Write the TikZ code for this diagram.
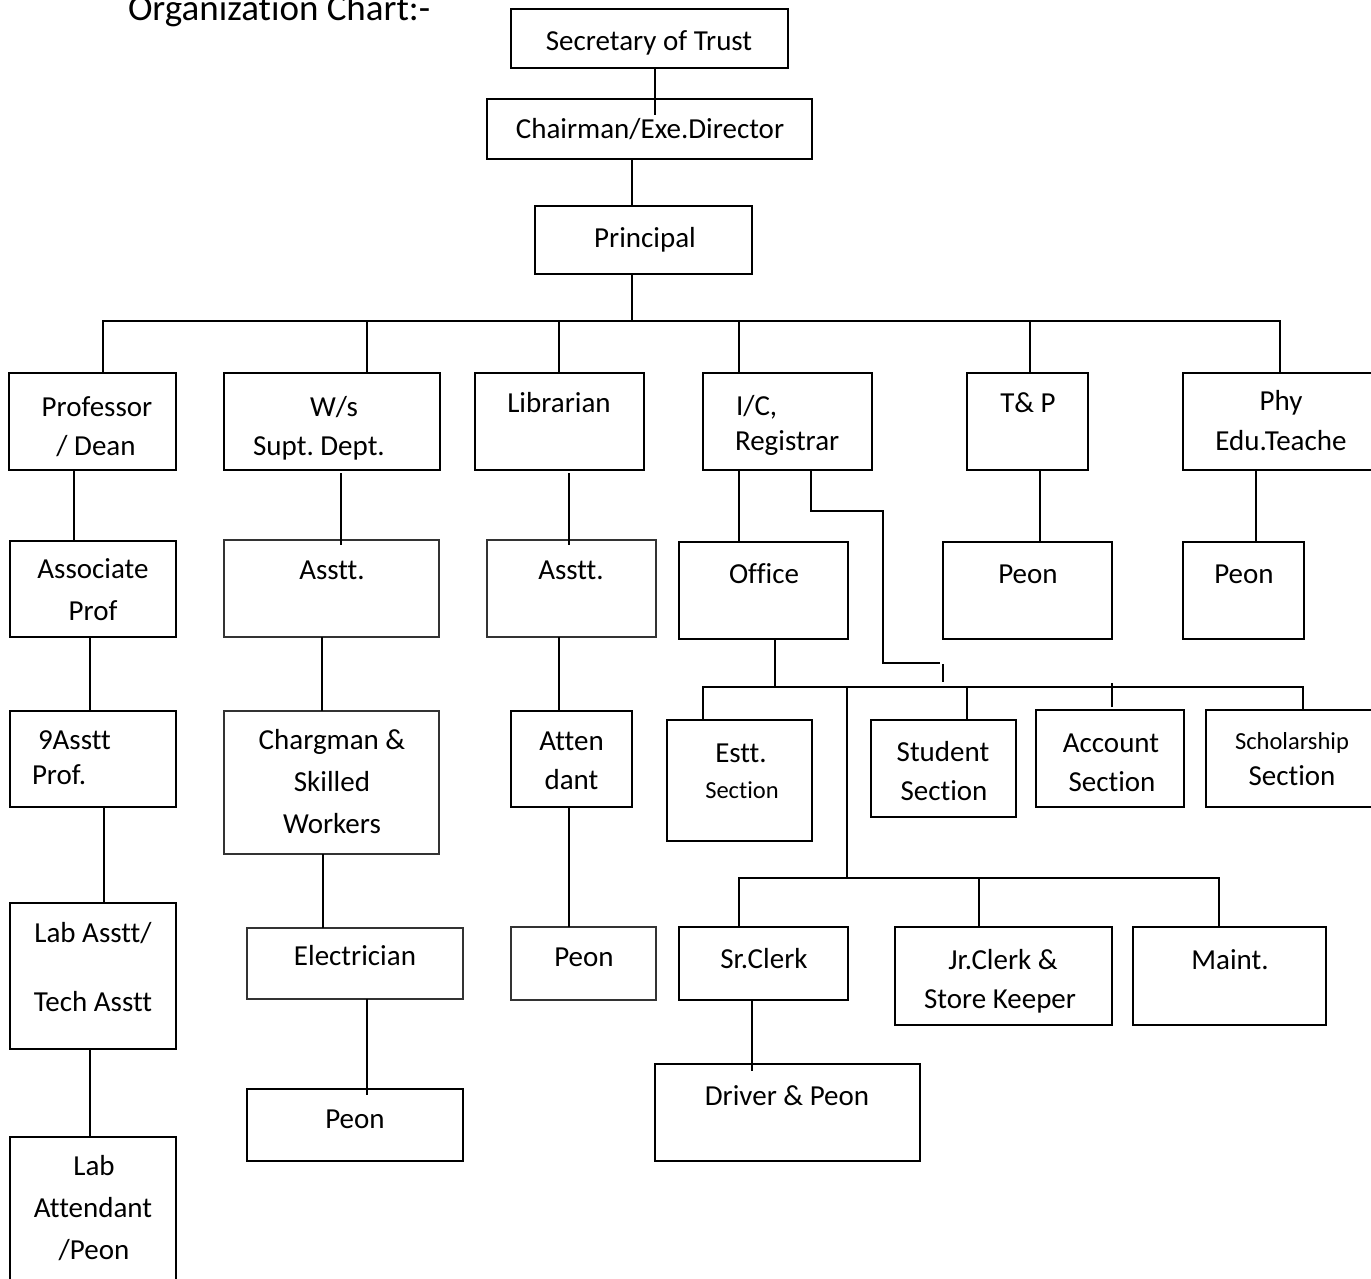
\documentclass[tikz,border=0pt]{standalone}
\usepackage{fontspec}
\setmainfont{Carlito}[Ligatures=NoCommon]
\frenchspacing
\usetikzlibrary{fit}
\newcommand\mainfs{\fontsize{29}{40}\selectfont}
\newcommand\smallfs{\fontsize{24.5}{30}\selectfont}
\newcommand\titlefs{\fontsize{37}{44}\selectfont}
\newcommand\orgbox[6][]{\node[box,#1,fit={(#3,#4) (#5,#6)}] (#2) {};}
\newcommand\lbl[4]{\node[txt,anchor=base] (#1) at (#2,#3) {#4};}
\newcommand\lblw[4]{\node[txt,anchor=base west] (#1) at (#2,#3) {#4};}
\newcommand\lbls[4]{\node[txt,font=\smallfs,anchor=base] (#1) at (#2,#3) {#4};}
\tikzset{
  box/.style={draw=black, line width=2pt, inner sep=0pt, outer sep=0pt},
  thinbox/.style={draw=black!80, line width=1.5pt},
  thickbox/.style={line width=2.8pt},
  txt/.style={inner sep=0pt, outer sep=0pt, font=\mainfs, text=black},
  conn/.style={draw=black, line width=1.6pt},
}
\begin{document}
\begin{tikzpicture}[x=1pt,y=-1pt]
\fill[white] (0,0) rectangle (1371,1279);
\useasboundingbox (0,0) rectangle (1371,1279);

% title
\node[txt,font=\titlefs,anchor=base west] (title) at (128,20.5) {Organization Chart:-};

% boxes
\orgbox{sec}{511}{9}{788}{68}
\orgbox[thickbox]{chair}{487}{99}{812}{159}
\orgbox{prin}{535}{206}{752}{274}
\orgbox{prof}{9}{373}{176}{470}
\orgbox{ws}{224}{373}{440}{470}
\orgbox{lib}{475}{373}{644}{470}
\orgbox{ic}{703}{373}{872}{470}
\orgbox{tp}{967}{373}{1088}{470}
\orgbox{phy}{1183}{373}{1385}{470}
\orgbox{assoc}{10}{541}{176}{637}
\orgbox[thinbox]{wsa}{224}{540}{439}{637}
\orgbox[thinbox]{liba}{487}{540}{656}{637}
\orgbox{office}{679}{542}{848}{639}
\orgbox{tpp}{943}{542}{1112}{639}
\orgbox{phyp}{1183}{542}{1304}{639}
\orgbox{asst9}{10}{711}{176}{807}
\orgbox[thinbox]{charg}{224}{711}{439}{854}
\orgbox{atten}{511}{711}{632}{807}
\orgbox{estt}{667}{720}{812}{841}
\orgbox{stud}{871}{720}{1016}{817}
\orgbox{acct}{1036}{710}{1184}{807}
\orgbox{schol}{1206}{710}{1385}{807}
\orgbox{lab}{10}{903}{176}{1049}
\orgbox[thinbox]{elec}{247}{928}{463}{999}
\orgbox[thinbox]{libp}{511}{927}{656}{1000}
\orgbox{sr}{679}{927}{848}{1000}
\orgbox{jr}{895}{927}{1112}{1025}
\orgbox{maint}{1133}{927}{1326}{1025}
\orgbox{labatt}{10}{1137}{176}{1300}
\orgbox{wsp}{247}{1089}{463}{1161}
\orgbox{driver}{655}{1064}{920}{1161}

% labels
\lbl{t-sec}{649}{51}{Secretary of Trust}
\lbl{t-chair}{650}{139}{Chairman/Exe.Director}
\lbl{t-prin}{645}{247}{Principal}
\lbl{t-prof1}{97}{416}{Professor}
\lbl{t-prof2}{96}{455}{/ Dean}
\lbl{t-ws1}{334}{416}{W/s}
\lbl{t-ws2}{319}{455}{Supt. Dept.}
\lbl{t-lib}{559}{412}{Librarian}
\lblw{t-ic1}{736}{415}{I/C,}
\lblw{t-ic2}{735}{450}{Registrar}
\lbl{t-tp}{1028}{412}{T\& P}
\lbl{t-phy1}{1281}{410}{Phy}
\lbl{t-phy2}{1281}{450}{Edu.Teache}
\lbl{t-assoc1}{93}{578}{Associate}
\lbl{t-assoc2}{93}{620}{Prof}
\lbl{t-wsa}{332}{579}{Asstt.}
\lbl{t-liba}{571}{579}{Asstt.}
\lbl{t-office}{764}{583}{Office}
\lbl{t-tpp}{1028}{583}{Peon}
\lbl{t-phyp}{1244}{583}{Peon}
\lblw{t-a9a}{38}{749}{9Asstt}
\lblw{t-a9b}{32}{784}{Prof.}
\lbl{t-ch1}{332}{749}{Chargman \&}
\lbl{t-ch2}{332}{791}{Skilled}
\lbl{t-ch3}{332}{833}{Workers}
\lbl{t-at1}{571.5}{750}{Atten}
\lbl{t-at2}{571.5}{789}{dant}
\lbl{t-es1}{741}{762}{Estt.}
\lbls{t-es2}{742}{798}{Section}
\lbl{t-st1}{943}{761}{Student}
\lbl{t-st2}{944}{800}{Section}
\lbl{t-ac1}{1111}{752}{Account}
\lbl{t-ac2}{1112}{791}{Section}
\lbls{t-sc1}{1292}{749}{Scholarship}
\lbl{t-sc2}{1292}{785}{Section}
\lbl{t-lab1}{93}{942}{Lab Asstt/}
\lbl{t-lab2}{93}{1011}{Tech Asstt}
\lbl{t-la1}{94}{1175}{Lab}
\lbl{t-la2}{93}{1217}{Attendant}
\lbl{t-la3}{94}{1259}{/Peon}
\lbl{t-elec}{355}{965}{Electrician}
\lbl{t-wsp}{355}{1128}{Peon}
\lbl{t-libp}{584}{966}{Peon}
\lbl{t-sr}{764}{968}{Sr.Clerk}
\lbl{t-jr1}{1003}{969}{Jr.Clerk \&}
\lbl{t-jr2}{1000}{1008}{Store Keeper}
\lbl{t-maint}{1230}{969}{Maint.}
\lbl{t-drv}{787}{1105}{Driver \& Peon}

% junction coordinates
\coordinate (bus1) at ([xshift=97pt,yshift=-47pt]prin.south west);
\coordinate (bus2) at ([xshift=96pt,yshift=-48pt]office.south west);
\coordinate (bus3) at ([xshift=168pt,yshift=49pt]sr.north west);

% connectors
\draw[conn] ([xshift=144pt]sec.south west) -- ([xshift=168pt,yshift=-16pt]chair.north west);
\draw[conn] ([xshift=145pt]chair.south west) -- ([xshift=97pt]prin.north west);
\draw[conn] ([xshift=97pt]prin.south west) -- (bus1);
\draw[conn] ([xshift=94pt]prof.north west) |- (bus1) -| ([xshift=97pt]phy.north west);
\draw[conn] ([xshift=143pt]ws.north west) |- (bus1);
\draw[conn] ([xshift=84pt]lib.north west) |- (bus1);
\draw[conn] ([xshift=36pt]ic.north west) |- (bus1);
\draw[conn] ([xshift=63pt]tp.north west) |- (bus1);

\draw[conn] ([xshift=65pt]prof.south west) -- ([xshift=64pt]assoc.north west);
\draw[conn] ([xshift=117pt,yshift=-3pt]ws.south west) -- ([xshift=117pt,yshift=-5pt]wsa.north west);
\draw[conn] ([xshift=94pt,yshift=-3pt]lib.south west) -- ([xshift=82pt,yshift=-5pt]liba.north west);
\draw[conn] ([xshift=36pt]ic.south west) -- ([xshift=60pt]office.north west);
\draw[conn] ([xshift=73pt]tp.south west) -- ([xshift=97pt]tpp.north west);
\draw[conn] ([xshift=73pt]phy.south west) -- ([xshift=73pt]phyp.north west);

\draw[conn] ([xshift=80pt]assoc.south west) -- ([xshift=80pt]asst9.north west);
\draw[conn] ([xshift=98pt]wsa.south west) -- ([xshift=98pt]charg.north west);
\draw[conn] ([xshift=72pt]liba.south west) -- ([xshift=48pt]atten.north west);
\draw[conn] ([xshift=94pt]asst9.south west) -- ([xshift=94pt]lab.north west);
\draw[conn] ([xshift=99pt]charg.south west) -- ([xshift=76pt]elec.north west);
\draw[conn] ([xshift=58pt]atten.south west) -- ([xshift=58pt]libp.north west);
\draw[conn] ([xshift=80pt]lab.south west) -- ([xshift=80pt]labatt.north west);
\draw[conn] ([xshift=120pt]elec.south west) -- ([xshift=120pt,yshift=-6pt]wsp.north west);

% I/C side elbow
\draw[conn] ([xshift=108pt]ic.south west) -- ++(0,41) -- ++(72,0) -- ++(0,152) -- ++(57,0) coordinate (elbowend);
\draw[conn] ([xshift=3pt,yshift=-1pt]elbowend) -- ++(0,18) coordinate (tickend);

% office bus
\draw[conn] ([xshift=96pt]office.south west) -- (bus2);
\draw[conn] ([xshift=36pt]estt.north west) |- (bus2) -| ([xshift=97pt]schol.north west);
\draw[conn] ([xshift=96pt]stud.north west) |- (bus2);
\draw[conn] ([xshift=76pt,yshift=3pt]acct.north west) -- ([xshift=76pt,yshift=27pt]acct.north west);
\draw[conn] (bus3) -- (bus3 |- bus2);

% clerk bus
\draw[conn] ([xshift=60pt]sr.north west) |- (bus3) -| ([xshift=86pt]maint.north west);
\draw[conn] ([xshift=84pt]jr.north west) |- (bus3);
\draw[conn] ([xshift=73pt]sr.south west) -- ([xshift=97pt,yshift=-7pt]driver.north west);
\end{tikzpicture}
\end{document}
